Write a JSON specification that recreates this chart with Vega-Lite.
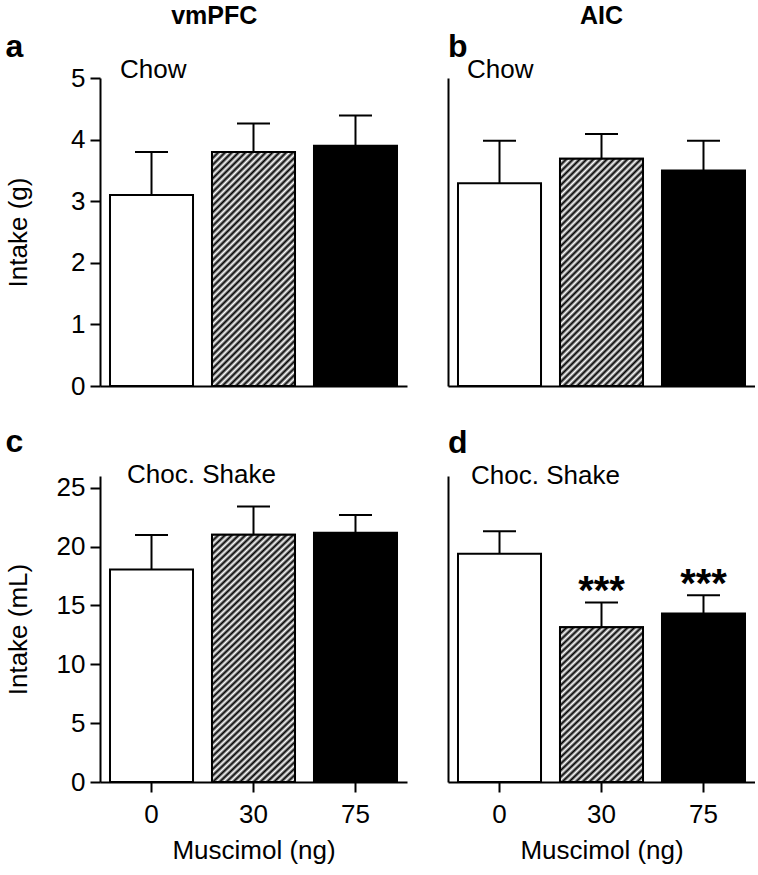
{
"$schema": "https://vega.github.io/schema/vega-lite/v6.json",
"padding": {"left": 5, "top": 4, "right": 0, "bottom": 5},
"background": "white",
"datasets": {"intake": [
{"panel":"a","dose":"0","mean":3.10,"upper":3.80,"sig":""},
{"panel":"a","dose":"30","mean":3.80,"upper":4.26,"sig":""},
{"panel":"a","dose":"75","mean":3.90,"upper":4.39,"sig":""},
{"panel":"b","dose":"0","mean":3.29,"upper":3.98,"sig":""},
{"panel":"b","dose":"30","mean":3.69,"upper":4.09,"sig":""},
{"panel":"b","dose":"75","mean":3.50,"upper":3.98,"sig":""},
{"panel":"c","dose":"0","mean":18.05,"upper":20.99,"sig":""},
{"panel":"c","dose":"30","mean":21.01,"upper":23.41,"sig":""},
{"panel":"c","dose":"75","mean":21.18,"upper":22.68,"sig":""},
{"panel":"d","dose":"0","mean":19.40,"upper":21.31,"sig":""},
{"panel":"d","dose":"30","mean":13.14,"upper":15.26,"sig":"***"},
{"panel":"d","dose":"75","mean":14.31,"upper":15.86,"sig":"***"}
]},
"spacing": 41,
"hconcat": [
{
"title": {"text": "vmPFC", "fontSize": 25, "fontWeight": "bold", "anchor": "middle", "dx": 8, "offset": 2},
"spacing": 26,
"vconcat": [
{
"width": 307, "height": 308,
"title": {"text": "a", "anchor": "start", "frame": "bounds", "fontSize": 32, "fontWeight": "bold", "offset": -7},
"data": {"name": "intake"},
"transform": [{"filter": "datum.panel === 'a'"}],
"encoding": {"x": {"field": "dose", "type": "nominal", "sort": ["0","30","75"], "scale": {"paddingInner": 0.186, "paddingOuter": 0.098}, "axis": {"title": null, "labels": false, "ticks": false}}},
"layer": [
{"mark": {"type": "bar", "stroke": "black", "strokeWidth": 2}, "encoding": {"y": {"field": "mean", "type": "quantitative", "scale": {"domain": [0, 5]}, "axis": {"title": "Intake (g)", "values": [0,1,2,3,4,5], "format": "d", "titlePadding": 39}}, "fill": {"field": "dose", "type": "nominal", "scale": {"domain": ["0","30","75"], "range": ["white","white","black"]}, "legend": null}}},
{"transform": [{"filter": "datum.dose === '30'"}], "mark": {"type": "bar", "stroke": "black", "strokeWidth": 2, "fill": {"gradient": "linear", "x1": 0, "y1": 0, "x2": 0.4566, "y2": 1.288, "stops": [{"offset":0,"color":"#000"},{"offset":0.01,"color":"#fff"},{"offset":0.02,"color":"#000"},{"offset":0.03,"color":"#fff"},{"offset":0.04,"color":"#000"},{"offset":0.05,"color":"#fff"},{"offset":0.06,"color":"#000"},{"offset":0.07,"color":"#fff"},{"offset":0.08,"color":"#000"},{"offset":0.09,"color":"#fff"},{"offset":0.1,"color":"#000"},{"offset":0.11,"color":"#fff"},{"offset":0.12,"color":"#000"},{"offset":0.13,"color":"#fff"},{"offset":0.14,"color":"#000"},{"offset":0.15,"color":"#fff"},{"offset":0.16,"color":"#000"},{"offset":0.17,"color":"#fff"},{"offset":0.18,"color":"#000"},{"offset":0.19,"color":"#fff"},{"offset":0.2,"color":"#000"},{"offset":0.21,"color":"#fff"},{"offset":0.22,"color":"#000"},{"offset":0.23,"color":"#fff"},{"offset":0.24,"color":"#000"},{"offset":0.25,"color":"#fff"},{"offset":0.26,"color":"#000"},{"offset":0.27,"color":"#fff"},{"offset":0.28,"color":"#000"},{"offset":0.29,"color":"#fff"},{"offset":0.3,"color":"#000"},{"offset":0.31,"color":"#fff"},{"offset":0.32,"color":"#000"},{"offset":0.33,"color":"#fff"},{"offset":0.34,"color":"#000"},{"offset":0.35,"color":"#fff"},{"offset":0.36,"color":"#000"},{"offset":0.37,"color":"#fff"},{"offset":0.38,"color":"#000"},{"offset":0.39,"color":"#fff"},{"offset":0.4,"color":"#000"},{"offset":0.41,"color":"#fff"},{"offset":0.42,"color":"#000"},{"offset":0.43,"color":"#fff"},{"offset":0.44,"color":"#000"},{"offset":0.45,"color":"#fff"},{"offset":0.46,"color":"#000"},{"offset":0.47,"color":"#fff"},{"offset":0.48,"color":"#000"},{"offset":0.49,"color":"#fff"},{"offset":0.5,"color":"#000"},{"offset":0.51,"color":"#fff"},{"offset":0.52,"color":"#000"},{"offset":0.53,"color":"#fff"},{"offset":0.54,"color":"#000"},{"offset":0.55,"color":"#fff"},{"offset":0.56,"color":"#000"},{"offset":0.57,"color":"#fff"},{"offset":0.58,"color":"#000"},{"offset":0.59,"color":"#fff"},{"offset":0.6,"color":"#000"},{"offset":0.61,"color":"#fff"},{"offset":0.62,"color":"#000"},{"offset":0.63,"color":"#fff"},{"offset":0.64,"color":"#000"},{"offset":0.65,"color":"#fff"},{"offset":0.66,"color":"#000"},{"offset":0.67,"color":"#fff"},{"offset":0.68,"color":"#000"},{"offset":0.69,"color":"#fff"},{"offset":0.7,"color":"#000"},{"offset":0.71,"color":"#fff"},{"offset":0.72,"color":"#000"},{"offset":0.73,"color":"#fff"},{"offset":0.74,"color":"#000"},{"offset":0.75,"color":"#fff"},{"offset":0.76,"color":"#000"},{"offset":0.77,"color":"#fff"},{"offset":0.78,"color":"#000"},{"offset":0.79,"color":"#fff"},{"offset":0.8,"color":"#000"},{"offset":0.81,"color":"#fff"},{"offset":0.82,"color":"#000"},{"offset":0.83,"color":"#fff"},{"offset":0.84,"color":"#000"},{"offset":0.85,"color":"#fff"},{"offset":0.86,"color":"#000"},{"offset":0.87,"color":"#fff"},{"offset":0.88,"color":"#000"},{"offset":0.89,"color":"#fff"},{"offset":0.9,"color":"#000"},{"offset":0.91,"color":"#fff"},{"offset":0.92,"color":"#000"},{"offset":0.93,"color":"#fff"},{"offset":0.94,"color":"#000"},{"offset":0.95,"color":"#fff"},{"offset":0.96,"color":"#000"},{"offset":0.97,"color":"#fff"},{"offset":0.98,"color":"#000"},{"offset":0.99,"color":"#fff"},{"offset":1,"color":"#000"}]}}, "encoding": {"y": {"field": "mean", "type": "quantitative"}}},
{"mark": {"type": "rule", "strokeWidth": 2, "color": "black"}, "encoding": {"y": {"field": "mean", "type": "quantitative"}, "y2": {"field": "upper"}}},
{"mark": {"type": "tick", "orient": "horizontal", "size": 33, "thickness": 2, "color": "black", "opacity": 1}, "encoding": {"y": {"field": "upper", "type": "quantitative"}}},
{"data": {"values": [{}]}, "mark": {"type": "text", "text": "Chow", "align": "left", "baseline": "alphabetic", "dx": 10, "dy": 0, "fontSize": 26, "color": "black"}, "encoding": {"x": {"datum": "0", "bandPosition": 0}, "y": {"datum": 5}}}
]
},
{
"width": 307, "height": 306,
"title": {"text": "c", "anchor": "start", "frame": "bounds", "fontSize": 32, "fontWeight": "bold", "offset": 3},
"data": {"name": "intake"},
"transform": [{"filter": "datum.panel === 'c'"}],
"encoding": {"x": {"field": "dose", "type": "nominal", "sort": ["0","30","75"], "scale": {"paddingInner": 0.186, "paddingOuter": 0.098}, "axis": {"title": "Muscimol (ng)", "labelAngle": 0, "labelPadding": 9, "titlePadding": 10}}},
"layer": [
{"mark": {"type": "bar", "stroke": "black", "strokeWidth": 2}, "encoding": {"y": {"field": "mean", "type": "quantitative", "scale": {"domain": [0, 25]}, "axis": {"title": "Intake (mL)", "values": [0,5,10,15,20,25], "format": "d", "titlePadding": 24.5}}, "fill": {"field": "dose", "type": "nominal", "scale": {"domain": ["0","30","75"], "range": ["white","white","black"]}, "legend": null}}},
{"transform": [{"filter": "datum.dose === '30'"}], "mark": {"type": "bar", "stroke": "black", "strokeWidth": 2, "fill": {"gradient": "linear", "x1": 0, "y1": 0, "x2": 0.3857, "y2": 1.1952, "stops": [{"offset":0,"color":"#000"},{"offset":0.01,"color":"#fff"},{"offset":0.02,"color":"#000"},{"offset":0.03,"color":"#fff"},{"offset":0.04,"color":"#000"},{"offset":0.05,"color":"#fff"},{"offset":0.06,"color":"#000"},{"offset":0.07,"color":"#fff"},{"offset":0.08,"color":"#000"},{"offset":0.09,"color":"#fff"},{"offset":0.1,"color":"#000"},{"offset":0.11,"color":"#fff"},{"offset":0.12,"color":"#000"},{"offset":0.13,"color":"#fff"},{"offset":0.14,"color":"#000"},{"offset":0.15,"color":"#fff"},{"offset":0.16,"color":"#000"},{"offset":0.17,"color":"#fff"},{"offset":0.18,"color":"#000"},{"offset":0.19,"color":"#fff"},{"offset":0.2,"color":"#000"},{"offset":0.21,"color":"#fff"},{"offset":0.22,"color":"#000"},{"offset":0.23,"color":"#fff"},{"offset":0.24,"color":"#000"},{"offset":0.25,"color":"#fff"},{"offset":0.26,"color":"#000"},{"offset":0.27,"color":"#fff"},{"offset":0.28,"color":"#000"},{"offset":0.29,"color":"#fff"},{"offset":0.3,"color":"#000"},{"offset":0.31,"color":"#fff"},{"offset":0.32,"color":"#000"},{"offset":0.33,"color":"#fff"},{"offset":0.34,"color":"#000"},{"offset":0.35,"color":"#fff"},{"offset":0.36,"color":"#000"},{"offset":0.37,"color":"#fff"},{"offset":0.38,"color":"#000"},{"offset":0.39,"color":"#fff"},{"offset":0.4,"color":"#000"},{"offset":0.41,"color":"#fff"},{"offset":0.42,"color":"#000"},{"offset":0.43,"color":"#fff"},{"offset":0.44,"color":"#000"},{"offset":0.45,"color":"#fff"},{"offset":0.46,"color":"#000"},{"offset":0.47,"color":"#fff"},{"offset":0.48,"color":"#000"},{"offset":0.49,"color":"#fff"},{"offset":0.5,"color":"#000"},{"offset":0.51,"color":"#fff"},{"offset":0.52,"color":"#000"},{"offset":0.53,"color":"#fff"},{"offset":0.54,"color":"#000"},{"offset":0.55,"color":"#fff"},{"offset":0.56,"color":"#000"},{"offset":0.57,"color":"#fff"},{"offset":0.58,"color":"#000"},{"offset":0.59,"color":"#fff"},{"offset":0.6,"color":"#000"},{"offset":0.61,"color":"#fff"},{"offset":0.62,"color":"#000"},{"offset":0.63,"color":"#fff"},{"offset":0.64,"color":"#000"},{"offset":0.65,"color":"#fff"},{"offset":0.66,"color":"#000"},{"offset":0.67,"color":"#fff"},{"offset":0.68,"color":"#000"},{"offset":0.69,"color":"#fff"},{"offset":0.7,"color":"#000"},{"offset":0.71,"color":"#fff"},{"offset":0.72,"color":"#000"},{"offset":0.73,"color":"#fff"},{"offset":0.74,"color":"#000"},{"offset":0.75,"color":"#fff"},{"offset":0.76,"color":"#000"},{"offset":0.77,"color":"#fff"},{"offset":0.78,"color":"#000"},{"offset":0.79,"color":"#fff"},{"offset":0.8,"color":"#000"},{"offset":0.81,"color":"#fff"},{"offset":0.82,"color":"#000"},{"offset":0.83,"color":"#fff"},{"offset":0.84,"color":"#000"},{"offset":0.85,"color":"#fff"},{"offset":0.86,"color":"#000"},{"offset":0.87,"color":"#fff"},{"offset":0.88,"color":"#000"},{"offset":0.89,"color":"#fff"},{"offset":0.9,"color":"#000"},{"offset":0.91,"color":"#fff"},{"offset":0.92,"color":"#000"},{"offset":0.93,"color":"#fff"},{"offset":0.94,"color":"#000"},{"offset":0.95,"color":"#fff"},{"offset":0.96,"color":"#000"},{"offset":0.97,"color":"#fff"},{"offset":0.98,"color":"#000"},{"offset":0.99,"color":"#fff"},{"offset":1,"color":"#000"}]}}, "encoding": {"y": {"field": "mean", "type": "quantitative"}}},
{"mark": {"type": "rule", "strokeWidth": 2, "color": "black"}, "encoding": {"y": {"field": "mean", "type": "quantitative"}, "y2": {"field": "upper"}}},
{"mark": {"type": "tick", "orient": "horizontal", "size": 33, "thickness": 2, "color": "black", "opacity": 1}, "encoding": {"y": {"field": "upper", "type": "quantitative"}}},
{"data": {"values": [{}]}, "mark": {"type": "text", "text": "Choc. Shake", "align": "left", "baseline": "alphabetic", "dx": 17, "dy": -5, "fontSize": 26, "color": "black"}, "encoding": {"x": {"datum": "0", "bandPosition": 0}, "y": {"datum": 25}}}
]
}
]
},
{
"title": {"text": "AIC", "fontSize": 25, "fontWeight": "bold", "anchor": "middle", "offset": 2},
"spacing": 39,
"vconcat": [
{
"width": 307, "height": 308,
"title": {"text": "b", "anchor": "start", "frame": "bounds", "fontSize": 32, "fontWeight": "bold", "offset": -7},
"data": {"name": "intake"},
"transform": [{"filter": "datum.panel === 'b'"}],
"encoding": {"x": {"field": "dose", "type": "nominal", "sort": ["0","30","75"], "scale": {"paddingInner": 0.186, "paddingOuter": 0.098}, "axis": {"title": null, "labels": false, "ticks": false}}},
"layer": [
{"mark": {"type": "bar", "stroke": "black", "strokeWidth": 2}, "encoding": {"y": {"field": "mean", "type": "quantitative", "scale": {"domain": [0, 5]}, "axis": {"title": null, "labels": false, "ticks": false, "values": [0,1,2,3,4,5]}}, "fill": {"field": "dose", "type": "nominal", "scale": {"domain": ["0","30","75"], "range": ["white","white","black"]}, "legend": null}}},
{"transform": [{"filter": "datum.dose === '30'"}], "mark": {"type": "bar", "stroke": "black", "strokeWidth": 2, "fill": {"gradient": "linear", "x1": 0, "y1": 0, "x2": 0.4811, "y2": 1.3175, "stops": [{"offset":0,"color":"#000"},{"offset":0.01,"color":"#fff"},{"offset":0.02,"color":"#000"},{"offset":0.03,"color":"#fff"},{"offset":0.04,"color":"#000"},{"offset":0.05,"color":"#fff"},{"offset":0.06,"color":"#000"},{"offset":0.07,"color":"#fff"},{"offset":0.08,"color":"#000"},{"offset":0.09,"color":"#fff"},{"offset":0.1,"color":"#000"},{"offset":0.11,"color":"#fff"},{"offset":0.12,"color":"#000"},{"offset":0.13,"color":"#fff"},{"offset":0.14,"color":"#000"},{"offset":0.15,"color":"#fff"},{"offset":0.16,"color":"#000"},{"offset":0.17,"color":"#fff"},{"offset":0.18,"color":"#000"},{"offset":0.19,"color":"#fff"},{"offset":0.2,"color":"#000"},{"offset":0.21,"color":"#fff"},{"offset":0.22,"color":"#000"},{"offset":0.23,"color":"#fff"},{"offset":0.24,"color":"#000"},{"offset":0.25,"color":"#fff"},{"offset":0.26,"color":"#000"},{"offset":0.27,"color":"#fff"},{"offset":0.28,"color":"#000"},{"offset":0.29,"color":"#fff"},{"offset":0.3,"color":"#000"},{"offset":0.31,"color":"#fff"},{"offset":0.32,"color":"#000"},{"offset":0.33,"color":"#fff"},{"offset":0.34,"color":"#000"},{"offset":0.35,"color":"#fff"},{"offset":0.36,"color":"#000"},{"offset":0.37,"color":"#fff"},{"offset":0.38,"color":"#000"},{"offset":0.39,"color":"#fff"},{"offset":0.4,"color":"#000"},{"offset":0.41,"color":"#fff"},{"offset":0.42,"color":"#000"},{"offset":0.43,"color":"#fff"},{"offset":0.44,"color":"#000"},{"offset":0.45,"color":"#fff"},{"offset":0.46,"color":"#000"},{"offset":0.47,"color":"#fff"},{"offset":0.48,"color":"#000"},{"offset":0.49,"color":"#fff"},{"offset":0.5,"color":"#000"},{"offset":0.51,"color":"#fff"},{"offset":0.52,"color":"#000"},{"offset":0.53,"color":"#fff"},{"offset":0.54,"color":"#000"},{"offset":0.55,"color":"#fff"},{"offset":0.56,"color":"#000"},{"offset":0.57,"color":"#fff"},{"offset":0.58,"color":"#000"},{"offset":0.59,"color":"#fff"},{"offset":0.6,"color":"#000"},{"offset":0.61,"color":"#fff"},{"offset":0.62,"color":"#000"},{"offset":0.63,"color":"#fff"},{"offset":0.64,"color":"#000"},{"offset":0.65,"color":"#fff"},{"offset":0.66,"color":"#000"},{"offset":0.67,"color":"#fff"},{"offset":0.68,"color":"#000"},{"offset":0.69,"color":"#fff"},{"offset":0.7,"color":"#000"},{"offset":0.71,"color":"#fff"},{"offset":0.72,"color":"#000"},{"offset":0.73,"color":"#fff"},{"offset":0.74,"color":"#000"},{"offset":0.75,"color":"#fff"},{"offset":0.76,"color":"#000"},{"offset":0.77,"color":"#fff"},{"offset":0.78,"color":"#000"},{"offset":0.79,"color":"#fff"},{"offset":0.8,"color":"#000"},{"offset":0.81,"color":"#fff"},{"offset":0.82,"color":"#000"},{"offset":0.83,"color":"#fff"},{"offset":0.84,"color":"#000"},{"offset":0.85,"color":"#fff"},{"offset":0.86,"color":"#000"},{"offset":0.87,"color":"#fff"},{"offset":0.88,"color":"#000"},{"offset":0.89,"color":"#fff"},{"offset":0.9,"color":"#000"},{"offset":0.91,"color":"#fff"},{"offset":0.92,"color":"#000"},{"offset":0.93,"color":"#fff"},{"offset":0.94,"color":"#000"},{"offset":0.95,"color":"#fff"},{"offset":0.96,"color":"#000"},{"offset":0.97,"color":"#fff"},{"offset":0.98,"color":"#000"},{"offset":0.99,"color":"#fff"},{"offset":1,"color":"#000"}]}}, "encoding": {"y": {"field": "mean", "type": "quantitative"}}},
{"mark": {"type": "rule", "strokeWidth": 2, "color": "black"}, "encoding": {"y": {"field": "mean", "type": "quantitative"}, "y2": {"field": "upper"}}},
{"mark": {"type": "tick", "orient": "horizontal", "size": 33, "thickness": 2, "color": "black", "opacity": 1}, "encoding": {"y": {"field": "upper", "type": "quantitative"}}},
{"data": {"values": [{}]}, "mark": {"type": "text", "text": "Chow", "align": "left", "baseline": "alphabetic", "dx": 9, "dy": 0, "fontSize": 26, "color": "black"}, "encoding": {"x": {"datum": "0", "bandPosition": 0}, "y": {"datum": 5}}}
]
},
{
"width": 307, "height": 306,
"title": {"text": "d", "anchor": "start", "frame": "bounds", "fontSize": 32, "fontWeight": "bold", "offset": 3},
"data": {"name": "intake"},
"transform": [{"filter": "datum.panel === 'd'"}],
"encoding": {"x": {"field": "dose", "type": "nominal", "sort": ["0","30","75"], "scale": {"paddingInner": 0.186, "paddingOuter": 0.098}, "axis": {"title": "Muscimol (ng)", "labelAngle": 0, "labelPadding": 9, "titlePadding": 10}}},
"layer": [
{"mark": {"type": "bar", "stroke": "black", "strokeWidth": 2}, "encoding": {"y": {"field": "mean", "type": "quantitative", "scale": {"domain": [0, 25]}, "axis": {"title": null, "labels": false, "ticks": false, "values": [0,5,10,15,20,25]}}, "fill": {"field": "dose", "type": "nominal", "scale": {"domain": ["0","30","75"], "range": ["white","white","black"]}, "legend": null}}},
{"transform": [{"filter": "datum.dose === '30'"}], "mark": {"type": "bar", "stroke": "black", "strokeWidth": 2, "fill": {"gradient": "linear", "x1": 0, "y1": 0, "x2": 0.8603, "y2": 1.6667, "stops": [{"offset":0,"color":"#000"},{"offset":0.01,"color":"#fff"},{"offset":0.02,"color":"#000"},{"offset":0.03,"color":"#fff"},{"offset":0.04,"color":"#000"},{"offset":0.05,"color":"#fff"},{"offset":0.06,"color":"#000"},{"offset":0.07,"color":"#fff"},{"offset":0.08,"color":"#000"},{"offset":0.09,"color":"#fff"},{"offset":0.1,"color":"#000"},{"offset":0.11,"color":"#fff"},{"offset":0.12,"color":"#000"},{"offset":0.13,"color":"#fff"},{"offset":0.14,"color":"#000"},{"offset":0.15,"color":"#fff"},{"offset":0.16,"color":"#000"},{"offset":0.17,"color":"#fff"},{"offset":0.18,"color":"#000"},{"offset":0.19,"color":"#fff"},{"offset":0.2,"color":"#000"},{"offset":0.21,"color":"#fff"},{"offset":0.22,"color":"#000"},{"offset":0.23,"color":"#fff"},{"offset":0.24,"color":"#000"},{"offset":0.25,"color":"#fff"},{"offset":0.26,"color":"#000"},{"offset":0.27,"color":"#fff"},{"offset":0.28,"color":"#000"},{"offset":0.29,"color":"#fff"},{"offset":0.3,"color":"#000"},{"offset":0.31,"color":"#fff"},{"offset":0.32,"color":"#000"},{"offset":0.33,"color":"#fff"},{"offset":0.34,"color":"#000"},{"offset":0.35,"color":"#fff"},{"offset":0.36,"color":"#000"},{"offset":0.37,"color":"#fff"},{"offset":0.38,"color":"#000"},{"offset":0.39,"color":"#fff"},{"offset":0.4,"color":"#000"},{"offset":0.41,"color":"#fff"},{"offset":0.42,"color":"#000"},{"offset":0.43,"color":"#fff"},{"offset":0.44,"color":"#000"},{"offset":0.45,"color":"#fff"},{"offset":0.46,"color":"#000"},{"offset":0.47,"color":"#fff"},{"offset":0.48,"color":"#000"},{"offset":0.49,"color":"#fff"},{"offset":0.5,"color":"#000"},{"offset":0.51,"color":"#fff"},{"offset":0.52,"color":"#000"},{"offset":0.53,"color":"#fff"},{"offset":0.54,"color":"#000"},{"offset":0.55,"color":"#fff"},{"offset":0.56,"color":"#000"},{"offset":0.57,"color":"#fff"},{"offset":0.58,"color":"#000"},{"offset":0.59,"color":"#fff"},{"offset":0.6,"color":"#000"},{"offset":0.61,"color":"#fff"},{"offset":0.62,"color":"#000"},{"offset":0.63,"color":"#fff"},{"offset":0.64,"color":"#000"},{"offset":0.65,"color":"#fff"},{"offset":0.66,"color":"#000"},{"offset":0.67,"color":"#fff"},{"offset":0.68,"color":"#000"},{"offset":0.69,"color":"#fff"},{"offset":0.7,"color":"#000"},{"offset":0.71,"color":"#fff"},{"offset":0.72,"color":"#000"},{"offset":0.73,"color":"#fff"},{"offset":0.74,"color":"#000"},{"offset":0.75,"color":"#fff"},{"offset":0.76,"color":"#000"},{"offset":0.77,"color":"#fff"},{"offset":0.78,"color":"#000"},{"offset":0.79,"color":"#fff"},{"offset":0.8,"color":"#000"},{"offset":0.81,"color":"#fff"},{"offset":0.82,"color":"#000"},{"offset":0.83,"color":"#fff"},{"offset":0.84,"color":"#000"},{"offset":0.85,"color":"#fff"},{"offset":0.86,"color":"#000"},{"offset":0.87,"color":"#fff"},{"offset":0.88,"color":"#000"},{"offset":0.89,"color":"#fff"},{"offset":0.9,"color":"#000"},{"offset":0.91,"color":"#fff"},{"offset":0.92,"color":"#000"},{"offset":0.93,"color":"#fff"},{"offset":0.94,"color":"#000"},{"offset":0.95,"color":"#fff"},{"offset":0.96,"color":"#000"},{"offset":0.97,"color":"#fff"},{"offset":0.98,"color":"#000"},{"offset":0.99,"color":"#fff"},{"offset":1,"color":"#000"}]}}, "encoding": {"y": {"field": "mean", "type": "quantitative"}}},
{"mark": {"type": "rule", "strokeWidth": 2, "color": "black"}, "encoding": {"y": {"field": "mean", "type": "quantitative"}, "y2": {"field": "upper"}}},
{"mark": {"type": "tick", "orient": "horizontal", "size": 33, "thickness": 2, "color": "black", "opacity": 1}, "encoding": {"y": {"field": "upper", "type": "quantitative"}}},
{"transform": [{"filter": "datum.sig !== ''"}], "mark": {"type": "text", "fontSize": 40, "fontWeight": "bold", "baseline": "alphabetic", "dy": 2, "color": "black"}, "encoding": {"y": {"field": "upper", "type": "quantitative"}, "text": {"field": "sig"}}},
{"data": {"values": [{}]}, "mark": {"type": "text", "text": "Choc. Shake", "align": "left", "baseline": "alphabetic", "dx": 13, "dy": -4, "fontSize": 26, "color": "black"}, "encoding": {"x": {"datum": "0", "bandPosition": 0}, "y": {"datum": 25}}}
]
}
]
}
],
"config": {
"font": "Liberation Sans",
"view": {"stroke": null},
"title": {"font": "Liberation Sans", "color": "black"},
"text": {"font": "Liberation Sans"},
"axis": {"grid": false, "domainColor": "black", "domainWidth": 2, "tickColor": "black", "tickWidth": 2, "tickSize": 10, "labelColor": "black", "labelFontSize": 26, "labelFont": "Liberation Sans", "labelPadding": 5, "titleFont": "Liberation Sans", "titleFontSize": 26, "titleFontWeight": "normal", "titleColor": "black"}
}
}
